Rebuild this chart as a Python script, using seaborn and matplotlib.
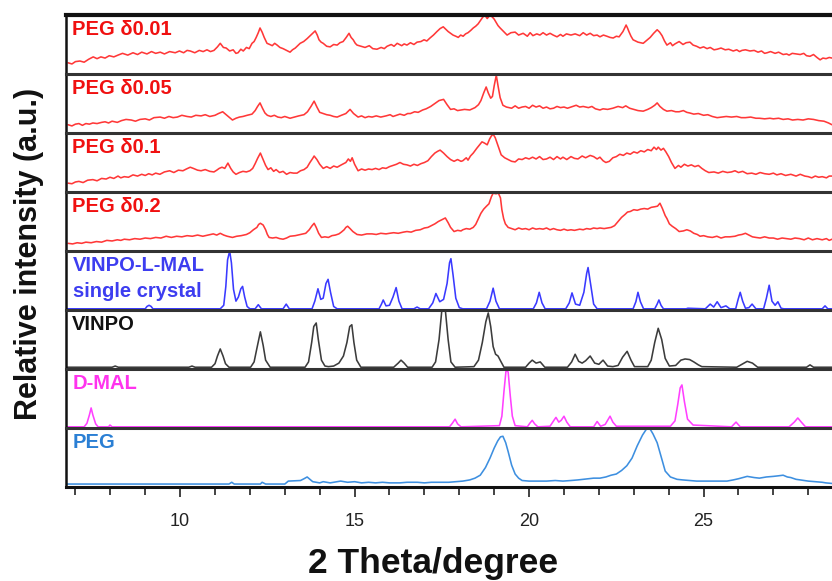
import matplotlib
matplotlib.use("Agg")
import matplotlib.pyplot as plt
import seaborn as sns
import pandas as pd
from matplotlib.ticker import MultipleLocator

# ---------------- data: (2theta [deg], relative intensity within its panel 0..1) ----------------
peg001 = [(6.79, 0.19), (6.9, 0.17), (7.0, 0.21), (7.13, 0.22), (7.25, 0.20), (7.38, 0.25), (7.51, 0.29),
          (7.62, 0.26), (7.73, 0.29), (7.85, 0.27), (7.97, 0.31), (8.1, 0.29), (8.22, 0.32), (8.35, 0.35),
          (8.5, 0.32), (8.65, 0.36), (8.78, 0.33), (8.9, 0.37), (9.05, 0.34), (9.18, 0.38), (9.3, 0.35),
          (9.43, 0.37), (9.55, 0.34), (9.7, 0.38), (9.86, 0.36), (9.98, 0.39), (10.1, 0.36), (10.2, 0.40),
          (10.29, 0.39), (10.42, 0.36), (10.55, 0.40), (10.66, 0.38), (10.77, 0.41), (10.87, 0.38),
          (10.97, 0.40), (11.07, 0.46), (11.15, 0.52), (11.24, 0.45), (11.32, 0.44), (11.42, 0.39),
          (11.52, 0.41), (11.6, 0.35), (11.66, 0.36), (11.74, 0.42), (11.81, 0.39), (11.9, 0.45),
          (11.98, 0.43), (12.06, 0.52), (12.12, 0.55), (12.18, 0.62), (12.24, 0.70), (12.29, 0.78),
          (12.35, 0.71), (12.41, 0.62), (12.49, 0.52), (12.57, 0.50), (12.64, 0.48), (12.71, 0.52),
          (12.78, 0.49), (12.86, 0.45), (12.95, 0.43), (13.05, 0.40), (13.15, 0.37), (13.22, 0.41),
          (13.30, 0.44), (13.37, 0.48), (13.44, 0.52), (13.54, 0.55), (13.64, 0.60), (13.71, 0.64),
          (13.78, 0.68), (13.87, 0.73), (13.93, 0.66), (13.98, 0.58), (14.04, 0.54), (14.10, 0.52),
          (14.2, 0.47), (14.30, 0.46), (14.4, 0.50), (14.50, 0.49), (14.58, 0.53), (14.67, 0.55),
          (14.76, 0.62), (14.84, 0.69), (14.9, 0.62), (14.96, 0.58), (15.02, 0.52), (15.07, 0.49),
          (15.18, 0.47), (15.30, 0.45), (15.42, 0.48), (15.52, 0.43), (15.64, 0.42), (15.76, 0.45),
          (15.85, 0.43), (15.93, 0.47), (16.05, 0.50), (16.13, 0.47), (16.22, 0.52), (16.35, 0.48),
          (16.42, 0.51), (16.50, 0.49), (16.6, 0.53), (16.7, 0.50), (16.79, 0.54), (16.9, 0.55),
          (16.99, 0.58), (17.07, 0.56), (17.16, 0.61), (17.26, 0.66), (17.36, 0.72), (17.45, 0.77),
          (17.54, 0.80), (17.61, 0.76), (17.68, 0.72), (17.75, 0.69), (17.82, 0.66), (17.9, 0.64),
          (17.97, 0.62), (18.04, 0.66), (18.11, 0.64), (18.18, 0.68), (18.25, 0.70), (18.33, 0.74),
          (18.40, 0.78), (18.47, 0.81), (18.54, 0.85), (18.61, 0.91), (18.68, 0.97), (18.74, 0.99),
          (18.80, 0.94), (18.87, 0.99), (18.94, 0.97), (19.0, 0.93), (19.05, 0.88), (19.11, 0.82),
          (19.17, 0.78), (19.27, 0.72), (19.37, 0.66), (19.48, 0.70), (19.6, 0.71), (19.7, 0.66),
          (19.83, 0.69), (19.95, 0.64), (20.03, 0.70), (20.11, 0.65), (20.22, 0.68), (20.31, 0.66),
          (20.40, 0.70), (20.5, 0.66), (20.6, 0.69), (20.69, 0.66), (20.8, 0.63), (20.9, 0.67),
          (20.97, 0.64), (21.07, 0.68), (21.2, 0.66), (21.32, 0.68), (21.45, 0.65), (21.55, 0.70),
          (21.65, 0.66), (21.75, 0.69), (21.85, 0.65), (21.95, 0.66), (22.03, 0.63), (22.13, 0.66),
          (22.23, 0.64), (22.32, 0.62), (22.41, 0.61), (22.5, 0.64), (22.58, 0.63), (22.64, 0.68),
          (22.69, 0.72), (22.74, 0.78), (22.78, 0.83), (22.82, 0.78), (22.86, 0.72), (22.92, 0.64),
          (22.98, 0.58), (23.05, 0.56), (23.12, 0.54), (23.2, 0.53), (23.27, 0.52), (23.37, 0.57),
          (23.47, 0.62), (23.57, 0.69), (23.67, 0.75), (23.74, 0.71), (23.81, 0.65), (23.88, 0.56),
          (23.95, 0.49), (24.05, 0.53), (24.11, 0.48), (24.18, 0.51), (24.3, 0.55), (24.41, 0.50),
          (24.5, 0.53), (24.61, 0.54), (24.7, 0.49), (24.8, 0.47), (24.90, 0.44), (25.0, 0.46),
          (25.1, 0.43), (25.19, 0.45), (25.3, 0.41), (25.39, 0.42), (25.5, 0.44), (25.62, 0.41),
          (25.72, 0.42), (25.85, 0.39), (25.95, 0.41), (26.03, 0.38), (26.10, 0.40), (26.2, 0.41),
          (26.33, 0.39), (26.45, 0.40), (26.56, 0.37), (26.66, 0.39), (26.75, 0.35), (26.82, 0.36),
          (26.92, 0.38), (27.05, 0.35), (27.15, 0.37), (27.28, 0.33), (27.38, 0.34), (27.45, 0.32),
          (27.54, 0.35), (27.65, 0.34), (27.77, 0.33), (27.87, 0.35), (27.95, 0.31), (28.05, 0.30),
          (28.15, 0.33), (28.25, 0.28), (28.34, 0.24), (28.42, 0.27), (28.51, 0.26), (28.6, 0.28),
          (28.68, 0.27)]

peg005 = [(6.79, 0.14), (6.9, 0.12), (7.0, 0.15), (7.1, 0.16), (7.2, 0.13), (7.3, 0.16), (7.4, 0.15),
          (7.5, 0.17), (7.62, 0.16), (7.75, 0.18), (7.85, 0.19), (7.95, 0.17), (8.05, 0.20), (8.2, 0.18),
          (8.32, 0.21), (8.45, 0.23), (8.6, 0.22), (8.72, 0.20), (8.85, 0.23), (9.0, 0.24), (9.12, 0.22),
          (9.25, 0.26), (9.43, 0.27), (9.55, 0.25), (9.68, 0.28), (9.8, 0.26), (9.92, 0.27), (10.05, 0.30),
          (10.2, 0.28), (10.32, 0.27), (10.45, 0.30), (10.6, 0.29), (10.72, 0.31), (10.85, 0.28),
          (11.0, 0.30), (11.1, 0.33), (11.22, 0.36), (11.32, 0.31), (11.42, 0.26), (11.5, 0.22),
          (11.6, 0.25), (11.7, 0.27), (11.8, 0.28), (11.92, 0.30), (12.06, 0.32), (12.15, 0.38),
          (12.22, 0.45), (12.29, 0.51), (12.36, 0.42), (12.43, 0.34), (12.5, 0.30), (12.6, 0.28),
          (12.7, 0.30), (12.8, 0.27), (12.9, 0.26), (13.0, 0.28), (13.15, 0.25), (13.27, 0.27),
          (13.4, 0.29), (13.55, 0.31), (13.65, 0.36), (13.75, 0.45), (13.84, 0.54), (13.92, 0.44),
          (14.0, 0.35), (14.1, 0.33), (14.2, 0.31), (14.3, 0.30), (14.4, 0.28), (14.5, 0.27),
          (14.62, 0.30), (14.75, 0.33), (14.87, 0.40), (14.97, 0.33), (15.1, 0.27), (15.2, 0.29),
          (15.3, 0.26), (15.4, 0.28), (15.5, 0.27), (15.62, 0.29), (15.75, 0.27), (15.9, 0.29),
          (16.02, 0.31), (16.1, 0.28), (16.2, 0.30), (16.3, 0.32), (16.42, 0.30), (16.52, 0.33),
          (16.6, 0.33), (16.72, 0.36), (16.82, 0.35), (16.95, 0.39), (17.05, 0.41), (17.18, 0.45),
          (17.3, 0.50), (17.42, 0.55), (17.55, 0.57), (17.65, 0.48), (17.75, 0.40), (17.85, 0.41),
          (17.95, 0.38), (18.05, 0.39), (18.15, 0.40), (18.3, 0.39), (18.45, 0.43), (18.55, 0.48),
          (18.62, 0.55), (18.7, 0.68), (18.77, 0.78), (18.83, 0.68), (18.9, 0.59), (18.95, 0.62),
          (19.0, 0.80), (19.06, 0.98), (19.11, 0.80), (19.17, 0.60), (19.25, 0.47), (19.35, 0.44),
          (19.5, 0.42), (19.6, 0.46), (19.7, 0.42), (19.8, 0.44), (19.9, 0.45), (20.0, 0.42),
          (20.1, 0.47), (20.2, 0.44), (20.3, 0.46), (20.4, 0.42), (20.5, 0.44), (20.6, 0.41),
          (20.7, 0.42), (20.8, 0.45), (20.9, 0.43), (21.0, 0.44), (21.1, 0.42), (21.2, 0.44),
          (21.35, 0.47), (21.45, 0.44), (21.55, 0.45), (21.7, 0.43), (21.8, 0.45), (21.9, 0.41),
          (22.03, 0.39), (22.12, 0.41), (22.25, 0.40), (22.4, 0.42), (22.55, 0.45), (22.68, 0.43),
          (22.77, 0.46), (22.88, 0.42), (23.0, 0.40), (23.12, 0.38), (23.27, 0.37), (23.4, 0.40),
          (23.5, 0.43), (23.6, 0.47), (23.67, 0.51), (23.75, 0.45), (23.85, 0.40), (23.95, 0.37),
          (24.08, 0.38), (24.2, 0.36), (24.3, 0.36), (24.42, 0.38), (24.52, 0.35), (24.6, 0.34),
          (24.72, 0.32), (24.85, 0.33), (25.0, 0.30), (25.12, 0.31), (25.25, 0.28), (25.39, 0.26),
          (25.52, 0.27), (25.65, 0.28), (25.8, 0.27), (25.95, 0.28), (26.08, 0.26), (26.2, 0.26),
          (26.35, 0.27), (26.5, 0.25), (26.6, 0.25), (26.75, 0.24), (26.9, 0.25), (27.0, 0.24),
          (27.15, 0.25), (27.28, 0.23), (27.42, 0.24), (27.55, 0.22), (27.7, 0.23), (27.85, 0.22),
          (28.0, 0.24), (28.15, 0.23), (28.3, 0.21), (28.45, 0.20), (28.58, 0.17), (28.68, 0.14)]

peg01 = [(6.79, 0.15), (6.9, 0.14), (7.0, 0.17), (7.1, 0.18), (7.22, 0.16), (7.35, 0.20), (7.5, 0.21),
         (7.62, 0.19), (7.75, 0.23), (7.88, 0.22), (7.99, 0.25), (8.1, 0.23), (8.22, 0.27), (8.3, 0.24),
         (8.4, 0.26), (8.52, 0.25), (8.65, 0.29), (8.78, 0.27), (8.9, 0.30), (9.0, 0.28), (9.1, 0.31),
         (9.2, 0.29), (9.3, 0.32), (9.42, 0.30), (9.55, 0.34), (9.7, 0.36), (9.82, 0.33), (9.95, 0.37),
         (10.08, 0.36), (10.18, 0.39), (10.29, 0.42), (10.38, 0.40), (10.5, 0.37), (10.6, 0.36),
         (10.72, 0.38), (10.85, 0.35), (10.97, 0.34), (11.05, 0.37), (11.12, 0.40), (11.2, 0.42),
         (11.28, 0.40), (11.37, 0.49), (11.45, 0.40), (11.52, 0.34), (11.6, 0.30), (11.7, 0.33),
         (11.8, 0.35), (11.9, 0.34), (12.0, 0.36), (12.08, 0.40), (12.15, 0.48), (12.22, 0.57),
         (12.3, 0.66), (12.38, 0.55), (12.45, 0.45), (12.52, 0.38), (12.6, 0.41), (12.68, 0.35),
         (12.75, 0.38), (12.85, 0.33), (12.95, 0.35), (13.05, 0.30), (13.15, 0.33), (13.25, 0.32),
         (13.35, 0.32), (13.45, 0.36), (13.55, 0.38), (13.64, 0.42), (13.72, 0.50), (13.8, 0.57),
         (13.84, 0.61), (13.92, 0.55), (14.0, 0.47), (14.1, 0.40), (14.2, 0.43), (14.3, 0.40),
         (14.4, 0.44), (14.5, 0.42), (14.62, 0.46), (14.75, 0.50), (14.82, 0.56), (14.88, 0.52),
         (14.93, 0.58), (15.0, 0.47), (15.1, 0.36), (15.2, 0.39), (15.3, 0.37), (15.4, 0.39),
         (15.5, 0.38), (15.6, 0.40), (15.7, 0.38), (15.8, 0.41), (15.9, 0.40), (16.0, 0.43),
         (16.1, 0.45), (16.2, 0.47), (16.3, 0.50), (16.4, 0.47), (16.5, 0.46), (16.6, 0.44),
         (16.7, 0.47), (16.8, 0.45), (16.9, 0.48), (17.0, 0.50), (17.1, 0.53), (17.2, 0.60),
         (17.3, 0.66), (17.38, 0.69), (17.45, 0.71), (17.55, 0.66), (17.65, 0.60), (17.75, 0.55),
         (17.85, 0.52), (17.95, 0.55), (18.05, 0.52), (18.1, 0.53), (18.2, 0.58), (18.25, 0.54),
         (18.32, 0.61), (18.4, 0.66), (18.5, 0.74), (18.58, 0.80), (18.65, 0.85), (18.72, 0.83),
         (18.8, 0.80), (18.87, 0.90), (18.92, 0.95), (18.97, 0.98), (19.03, 0.92), (19.1, 0.80),
         (19.2, 0.63), (19.3, 0.58), (19.4, 0.55), (19.5, 0.52), (19.6, 0.51), (19.7, 0.56),
         (19.8, 0.55), (19.9, 0.58), (20.0, 0.56), (20.1, 0.59), (20.2, 0.56), (20.3, 0.60),
         (20.4, 0.55), (20.5, 0.56), (20.6, 0.59), (20.7, 0.55), (20.8, 0.60), (20.9, 0.56),
         (20.97, 0.59), (21.08, 0.55), (21.2, 0.60), (21.3, 0.57), (21.4, 0.56), (21.52, 0.61),
         (21.62, 0.58), (21.75, 0.62), (21.85, 0.60), (21.95, 0.56), (22.03, 0.59), (22.12, 0.53),
         (22.2, 0.50), (22.3, 0.52), (22.4, 0.58), (22.5, 0.60), (22.6, 0.64), (22.7, 0.62),
         (22.8, 0.66), (22.9, 0.64), (23.0, 0.68), (23.1, 0.66), (23.2, 0.70), (23.3, 0.68),
         (23.4, 0.72), (23.5, 0.70), (23.58, 0.76), (23.65, 0.72), (23.7, 0.76), (23.78, 0.71),
         (23.85, 0.74), (23.92, 0.68), (24.0, 0.60), (24.08, 0.50), (24.18, 0.40), (24.28, 0.45),
         (24.35, 0.42), (24.45, 0.47), (24.55, 0.44), (24.65, 0.46), (24.75, 0.43), (24.85, 0.45),
         (24.95, 0.40), (25.05, 0.36), (25.15, 0.33), (25.3, 0.34), (25.42, 0.32), (25.55, 0.35),
         (25.68, 0.33), (25.8, 0.34), (25.9, 0.36), (26.0, 0.33), (26.12, 0.35), (26.25, 0.31),
         (26.38, 0.32), (26.5, 0.30), (26.62, 0.33), (26.75, 0.31), (26.88, 0.30), (27.0, 0.32),
         (27.1, 0.29), (27.22, 0.31), (27.35, 0.28), (27.5, 0.30), (27.65, 0.27), (27.77, 0.30),
         (27.9, 0.27), (28.0, 0.26), (28.1, 0.24), (28.2, 0.27), (28.3, 0.25), (28.4, 0.26),
         (28.52, 0.24), (28.6, 0.27), (28.68, 0.27)]

peg02 = [(6.79, 0.13), (6.92, 0.12), (7.05, 0.14), (7.18, 0.13), (7.3, 0.15), (7.45, 0.14), (7.6, 0.16),
         (7.75, 0.15), (7.9, 0.18), (8.05, 0.17), (8.2, 0.19), (8.3, 0.18), (8.4, 0.20), (8.55, 0.19),
         (8.7, 0.21), (8.85, 0.20), (9.0, 0.22), (9.15, 0.21), (9.3, 0.23), (9.45, 0.22), (9.6, 0.25),
         (9.75, 0.23), (9.9, 0.25), (10.05, 0.24), (10.2, 0.26), (10.35, 0.25), (10.5, 0.27),
         (10.65, 0.25), (10.8, 0.27), (10.95, 0.29), (11.05, 0.27), (11.15, 0.30), (11.25, 0.27),
         (11.35, 0.25), (11.5, 0.23), (11.62, 0.25), (11.75, 0.26), (11.9, 0.28), (12.0, 0.31),
         (12.1, 0.36), (12.2, 0.40), (12.25, 0.45), (12.3, 0.47), (12.38, 0.44), (12.45, 0.36),
         (12.5, 0.28), (12.55, 0.23), (12.65, 0.22), (12.75, 0.23), (12.85, 0.21), (12.95, 0.20),
         (13.05, 0.22), (13.15, 0.25), (13.3, 0.26), (13.45, 0.28), (13.6, 0.30), (13.7, 0.36),
         (13.77, 0.42), (13.84, 0.47), (13.9, 0.40), (13.97, 0.30), (14.05, 0.23), (14.15, 0.24),
         (14.25, 0.23), (14.35, 0.26), (14.45, 0.27), (14.55, 0.29), (14.62, 0.32), (14.7, 0.36),
         (14.75, 0.40), (14.8, 0.42), (14.87, 0.38), (14.95, 0.33), (15.07, 0.28), (15.2, 0.27),
         (15.35, 0.29), (15.5, 0.29), (15.62, 0.28), (15.75, 0.30), (15.9, 0.29), (16.0, 0.30),
         (16.12, 0.31), (16.25, 0.30), (16.4, 0.32), (16.5, 0.33), (16.62, 0.32), (16.75, 0.35),
         (16.88, 0.36), (17.0, 0.39), (17.1, 0.40), (17.2, 0.43), (17.3, 0.46), (17.4, 0.50),
         (17.5, 0.53), (17.6, 0.56), (17.68, 0.48), (17.75, 0.40), (17.85, 0.33), (17.95, 0.35),
         (18.05, 0.34), (18.1, 0.36), (18.2, 0.38), (18.3, 0.37), (18.4, 0.40), (18.47, 0.45),
         (18.55, 0.55), (18.62, 0.64), (18.7, 0.71), (18.78, 0.76), (18.85, 0.80), (18.92, 0.92),
         (18.97, 0.98), (19.05, 0.97), (19.12, 0.98), (19.18, 0.90), (19.22, 0.70), (19.27, 0.55),
         (19.32, 0.46), (19.4, 0.40), (19.5, 0.38), (19.6, 0.36), (19.7, 0.39), (19.8, 0.37),
         (19.9, 0.38), (20.0, 0.36), (20.1, 0.39), (20.2, 0.37), (20.3, 0.38), (20.4, 0.37),
         (20.5, 0.39), (20.6, 0.36), (20.7, 0.38), (20.8, 0.36), (20.9, 0.35), (21.0, 0.37),
         (21.1, 0.35), (21.2, 0.36), (21.3, 0.35), (21.45, 0.37), (21.55, 0.36), (21.65, 0.38),
         (21.75, 0.37), (21.85, 0.39), (21.95, 0.38), (22.03, 0.39), (22.15, 0.38), (22.25, 0.39),
         (22.35, 0.40), (22.45, 0.43), (22.55, 0.50), (22.65, 0.57), (22.75, 0.62), (22.82, 0.66),
         (22.9, 0.67), (23.0, 0.70), (23.1, 0.69), (23.2, 0.71), (23.3, 0.72), (23.4, 0.71),
         (23.5, 0.74), (23.6, 0.75), (23.68, 0.76), (23.75, 0.81), (23.82, 0.72), (23.9, 0.60),
         (23.95, 0.55), (24.02, 0.46), (24.1, 0.42), (24.2, 0.38), (24.3, 0.33), (24.42, 0.34),
         (24.52, 0.36), (24.62, 0.34), (24.72, 0.30), (24.82, 0.28), (24.9, 0.25), (25.0, 0.26),
         (25.12, 0.24), (25.25, 0.23), (25.38, 0.25), (25.5, 0.22), (25.62, 0.24), (25.75, 0.24),
         (25.9, 0.25), (26.0, 0.27), (26.1, 0.28), (26.2, 0.30), (26.3, 0.27), (26.4, 0.24),
         (26.5, 0.23), (26.62, 0.22), (26.75, 0.24), (26.88, 0.22), (27.0, 0.22), (27.12, 0.20),
         (27.25, 0.22), (27.38, 0.21), (27.5, 0.20), (27.62, 0.22), (27.75, 0.21), (27.88, 0.19),
         (28.0, 0.22), (28.12, 0.19), (28.25, 0.21), (28.4, 0.19), (28.52, 0.21), (28.6, 0.18),
         (28.68, 0.20)]

vinpo_l_mal = [(6.73, 0.02), (9.0, 0.02), (9.05, 0.06), (9.11, 0.08), (9.17, 0.06), (9.22, 0.02),
               (11.15, 0.02), (11.25, 0.08), (11.31, 0.40), (11.36, 0.85), (11.42, 1.0), (11.47, 0.80),
               (11.53, 0.35), (11.6, 0.15), (11.67, 0.22), (11.74, 0.36), (11.79, 0.40), (11.85, 0.22),
               (11.92, 0.06), (12.0, 0.02), (12.15, 0.02), (12.24, 0.09), (12.33, 0.02), (12.95, 0.02),
               (13.04, 0.10), (13.13, 0.02), (13.78, 0.02), (13.86, 0.15), (13.95, 0.36), (14.03, 0.18),
               (14.1, 0.20), (14.18, 0.45), (14.24, 0.52), (14.31, 0.30), (14.4, 0.06), (14.5, 0.02),
               (15.7, 0.02), (15.77, 0.10), (15.82, 0.17), (15.9, 0.07), (16.0, 0.08), (16.1, 0.22),
               (16.19, 0.38), (16.27, 0.15), (16.36, 0.02), (16.7, 0.02), (16.79, 0.05), (16.88, 0.02),
               (17.12, 0.02), (17.24, 0.12), (17.33, 0.28), (17.44, 0.14), (17.55, 0.18), (17.65, 0.45),
               (17.72, 0.80), (17.76, 0.87), (17.82, 0.60), (17.9, 0.20), (18.0, 0.04), (18.1, 0.02),
               (18.78, 0.02), (18.88, 0.15), (18.97, 0.37), (19.05, 0.15), (19.15, 0.02), (20.12, 0.02),
               (20.21, 0.12), (20.29, 0.30), (20.37, 0.12), (20.46, 0.02), (21.05, 0.02), (21.15, 0.12),
               (21.23, 0.29), (21.33, 0.10), (21.45, 0.08), (21.57, 0.30), (21.65, 0.62), (21.69, 0.72),
               (21.76, 0.45), (21.85, 0.10), (21.95, 0.02), (22.98, 0.02), (23.06, 0.14), (23.12, 0.30),
               (23.19, 0.14), (23.28, 0.02), (23.6, 0.02), (23.67, 0.10), (23.72, 0.17), (23.78, 0.08),
               (23.85, 0.02), (24.5, 0.02), (24.55, 0.03), (25.05, 0.02), (25.12, 0.06), (25.19, 0.10),
               (25.29, 0.05), (25.39, 0.14), (25.5, 0.04), (25.64, 0.07), (25.75, 0.02), (25.92, 0.02),
               (25.99, 0.18), (26.05, 0.30), (26.12, 0.15), (26.2, 0.03), (26.3, 0.04), (26.39, 0.10),
               (26.5, 0.02), (26.72, 0.02), (26.8, 0.20), (26.88, 0.42), (26.96, 0.15), (27.05, 0.08),
               (27.13, 0.14), (27.22, 0.03), (27.3, 0.02), (28.4, 0.02), (28.48, 0.07), (28.56, 0.02),
               (28.68, 0.02)]

vinpo = [(6.73, 0.03), (8.05, 0.03), (8.14, 0.05), (8.23, 0.03), (10.25, 0.03), (10.34, 0.05),
         (10.43, 0.03), (10.9, 0.03), (11.0, 0.09), (11.07, 0.22), (11.15, 0.34), (11.23, 0.22),
         (11.3, 0.09), (11.4, 0.03), (12.02, 0.03), (12.12, 0.12), (12.2, 0.35), (12.3, 0.63),
         (12.38, 0.40), (12.45, 0.15), (12.58, 0.03), (13.58, 0.03), (13.68, 0.12), (13.77, 0.45),
         (13.83, 0.72), (13.9, 0.78), (13.96, 0.50), (14.05, 0.15), (14.15, 0.05), (14.25, 0.04),
         (14.4, 0.05), (14.55, 0.10), (14.68, 0.22), (14.78, 0.45), (14.86, 0.72), (14.92, 0.75),
         (14.98, 0.45), (15.06, 0.15), (15.18, 0.03), (16.12, 0.03), (16.25, 0.10), (16.33, 0.15),
         (16.42, 0.10), (16.52, 0.03), (17.22, 0.03), (17.32, 0.12), (17.42, 0.50), (17.5, 1.0),
         (17.6, 1.0), (17.68, 0.50), (17.76, 0.12), (17.88, 0.03), (18.42, 0.04), (18.55, 0.15),
         (18.66, 0.45), (18.76, 0.80), (18.83, 0.95), (18.9, 0.72), (18.97, 0.38), (19.04, 0.25),
         (19.11, 0.22), (19.18, 0.14), (19.28, 0.03), (19.9, 0.03), (20.0, 0.10), (20.09, 0.15),
         (20.2, 0.10), (20.32, 0.12), (20.45, 0.03), (21.1, 0.03), (21.22, 0.12), (21.32, 0.25),
         (21.42, 0.13), (21.52, 0.10), (21.62, 0.14), (21.75, 0.22), (21.88, 0.10), (22.0, 0.08),
         (22.12, 0.15), (22.25, 0.05), (22.4, 0.04), (22.55, 0.06), (22.68, 0.20), (22.81, 0.30),
         (22.92, 0.15), (23.02, 0.04), (23.4, 0.04), (23.5, 0.15), (23.6, 0.45), (23.7, 0.69),
         (23.8, 0.50), (23.9, 0.18), (24.02, 0.05), (24.2, 0.06), (24.35, 0.15), (24.47, 0.17),
         (24.6, 0.16), (24.72, 0.12), (24.85, 0.07), (24.95, 0.04), (25.95, 0.03), (26.1, 0.08),
         (26.25, 0.13), (26.4, 0.10), (26.55, 0.03), (27.95, 0.03), (28.05, 0.07), (28.15, 0.03),
         (28.68, 0.03)]

d_mal = [(6.73, 0.02), (7.25, 0.02), (7.33, 0.08), (7.4, 0.22), (7.45, 0.34), (7.5, 0.22), (7.58, 0.07),
         (7.65, 0.02), (7.95, 0.02), (7.99, 0.05), (8.05, 0.02), (17.72, 0.02), (17.8, 0.08),
         (17.88, 0.15), (17.95, 0.07), (18.05, 0.02), (19.15, 0.04), (19.22, 0.20), (19.28, 0.62),
         (19.34, 0.98), (19.4, 0.95), (19.46, 0.55), (19.52, 0.20), (19.6, 0.04), (19.95, 0.02),
         (20.02, 0.08), (20.09, 0.13), (20.16, 0.07), (20.25, 0.02), (20.6, 0.03), (20.7, 0.12),
         (20.77, 0.18), (20.85, 0.10), (20.92, 0.13), (21.0, 0.20), (21.08, 0.10), (21.18, 0.02),
         (21.85, 0.02), (21.95, 0.11), (22.05, 0.03), (22.18, 0.06), (22.27, 0.15), (22.32, 0.20),
         (22.4, 0.10), (22.5, 0.03), (24.05, 0.03), (24.18, 0.12), (24.26, 0.40), (24.33, 0.68),
         (24.38, 0.73), (24.45, 0.45), (24.54, 0.15), (24.7, 0.05), (25.8, 0.02), (25.93, 0.10),
         (26.05, 0.02), (27.45, 0.02), (27.6, 0.10), (27.7, 0.17), (27.8, 0.10), (27.92, 0.02),
         (28.68, 0.02)]

peg = [(6.73, 0.05), (11.4, 0.05), (11.48, 0.08), (11.55, 0.05), (12.3, 0.05), (12.35, 0.08), (12.45, 0.05),
       (13.0, 0.05), (13.1, 0.10), (13.45, 0.11), (13.55, 0.14), (13.64, 0.17), (13.72, 0.13), (13.8, 0.09),
       (14.0, 0.07), (14.1, 0.09), (14.3, 0.07), (14.6, 0.10), (14.8, 0.08), (15.0, 0.09), (15.2, 0.07),
       (15.4, 0.08), (15.6, 0.07), (15.8, 0.08), (16.0, 0.07), (16.3, 0.07), (16.5, 0.08), (16.8, 0.08),
       (17.0, 0.07), (17.2, 0.08), (17.5, 0.08), (17.7, 0.08), (17.9, 0.09), (18.1, 0.10), (18.3, 0.12),
       (18.45, 0.15), (18.6, 0.20), (18.75, 0.33), (18.88, 0.49), (19.0, 0.66), (19.1, 0.78),
       (19.18, 0.85), (19.25, 0.86), (19.33, 0.75), (19.4, 0.60), (19.5, 0.37), (19.6, 0.22),
       (19.7, 0.15), (19.8, 0.11), (20.0, 0.10), (20.2, 0.10), (20.5, 0.10), (20.75, 0.11),
       (20.97, 0.10), (21.2, 0.11), (21.4, 0.12), (21.55, 0.13), (21.7, 0.14), (21.85, 0.15),
       (22.03, 0.15), (22.2, 0.17), (22.35, 0.20), (22.5, 0.22), (22.65, 0.28), (22.8, 0.36),
       (22.95, 0.49), (23.1, 0.70), (23.25, 0.88), (23.35, 0.97), (23.41, 1.0), (23.48, 0.97),
       (23.55, 0.90), (23.67, 0.75), (23.8, 0.48), (23.9, 0.27), (24.05, 0.17), (24.24, 0.13),
       (24.4, 0.12), (24.6, 0.11), (24.8, 0.10), (25.0, 0.10), (25.3, 0.10), (25.67, 0.10),
       (25.85, 0.12), (26.0, 0.14), (26.25, 0.18), (26.45, 0.16), (26.6, 0.15), (26.8, 0.17),
       (27.0, 0.18), (27.15, 0.19), (27.28, 0.20), (27.4, 0.17), (27.5, 0.16), (27.65, 0.13),
       (27.77, 0.12), (28.0, 0.10), (28.2, 0.09), (28.4, 0.08), (28.5, 0.07), (28.68, 0.06)]

labels = ["PEG δ0.01", "PEG δ0.05", "PEG δ0.1", "PEG δ0.2",
          "VINPO-L-MAL\nsingle crystal", "VINPO", "D-MAL", "PEG"]
patterns = [peg001, peg005, peg01, peg02, vinpo_l_mal, vinpo, d_mal, peg]
line_colors = ["#ff3838", "#ff3838", "#ff3838", "#ff3838", "#3a3aff", "#3c3c3c", "#ff40ff", "#3d8fe0"]
text_colors = ["#f01010", "#f01010", "#f01010", "#f01010", "#3d3df0", "#111111", "#ff33ee", "#2a7fd4"]
x_ticks = [10, 15, 20, 25]

# ---------------- figure ----------------
sns.set_theme(style="ticks")
plt.rcParams["font.family"] = ["Liberation Sans", "DejaVu Sans"]

fig, axes = plt.subplots(8, 1, figsize=(8.32, 5.81), dpi=100, sharex=True)
fig.subplots_adjust(left=66 / 832, right=1.0, top=1 - 15 / 581, bottom=1 - 487 / 581, hspace=0)

for i, ax in enumerate(axes):
    df = pd.DataFrame(patterns[i], columns=["theta", "intensity"])
    sns.lineplot(data=df, x="theta", y="intensity", ax=ax, color=line_colors[i],
                 linewidth=1.15, estimator=None, sort=False)
    ax.set_ylim(0, 1.0)
    ax.set_xlim(6.73, 28.68)
    ax.set_yticks([])
    ax.set_ylabel("")
    ax.set_xlabel("")
    ax.spines["right"].set_visible(False)
    ax.spines["left"].set_linewidth(1.8)
    ax.spines["left"].set_color("#111111")
    ax.spines["top"].set_linewidth(3.0 if i == 0 else 2.2)
    ax.spines["top"].set_color("#111111" if i == 0 else "#333333")
    if i < 7:
        ax.spines["bottom"].set_visible(False)
        ax.tick_params(axis="x", which="both", bottom=False, labelbottom=False)
    if "\n" in labels[i]:
        first, second = labels[i].split("\n")
        ax.text(0.009, 0.76, first, transform=ax.transAxes, color=text_colors[i],
                fontsize=14.5, fontweight="bold", va="center", ha="left")
        ax.text(0.009, 0.31, second, transform=ax.transAxes, color=text_colors[i],
                fontsize=14.5, fontweight="bold", va="center", ha="left")
    else:
        ax.text(0.008, 0.75, labels[i], transform=ax.transAxes, color=text_colors[i],
                fontsize=14.5, fontweight="bold", va="center", ha="left")

bax = axes[-1]
bax.spines["bottom"].set_linewidth(2.2)
bax.spines["bottom"].set_color("#111111")
bax.xaxis.set_minor_locator(MultipleLocator(1))
bax.set_xticks(x_ticks)
bax.set_xticklabels([str(t) for t in x_ticks])
bax.tick_params(axis="x", which="major", direction="out", length=7, width=1.2, labelsize=13,
                pad=12, colors="#222222")
bax.tick_params(axis="x", which="minor", direction="out", length=6, width=1.2, colors="#222222")

fig.text(0.035, 0.563, "Relative intensity (a.u.)", rotation=90, fontsize=22,
         fontweight="bold", va="center", ha="center", color="#111111")
fig.text(0.521, 1 - 563 / 581, "2 Theta/degree", fontsize=25.5, fontweight="bold",
         va="center", ha="center", color="#111111")

fig.savefig("out.png", dpi=100)
